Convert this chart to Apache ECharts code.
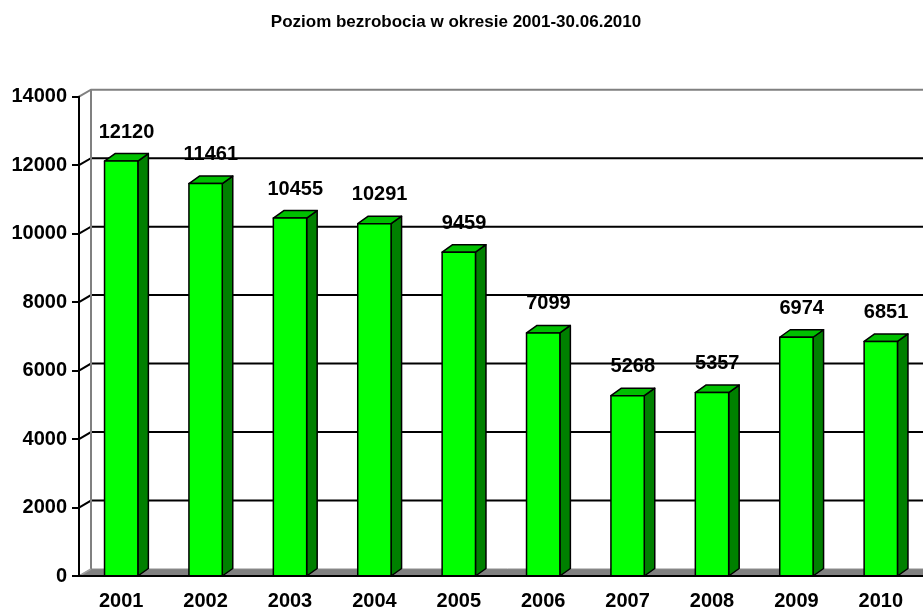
<!DOCTYPE html>
<html><head><meta charset="utf-8">
<script src="https://cdn.jsdelivr.net/npm/echarts@6/dist/echarts.min.js"></script>
<style>html,body{margin:0;padding:0;background:#fff}#c{width:923px;height:611px}</style>
</head><body><div id="c"></div>
<script>
const titleText = 'Poziom bezrobocia w okresie 2001-30.06.2010';
const categories = ['2001','2002','2003','2004','2005','2006','2007','2008','2009','2010'];
const values = [12120, 11461, 10455, 10291, 9459, 7099, 5268, 5357, 6974, 6851];
const yTicks = [0, 2000, 4000, 6000, 8000, 10000, 12000, 14000];

const FONT = '"Liberation Sans", Arial, sans-serif';
const DX = 12, DY = -7;       // back wall depth
const BDX = 10.5, BDY = -7.5; // bar depth

const chart = echarts.init(document.getElementById('c'), null, {renderer: 'canvas'});

chart.setOption({
  animation: false,
  backgroundColor: '#fff',
  graphic: [{
    type: 'text', x: 456, y: 22,
    style: {text: titleText, textAlign: 'center', textVerticalAlign: 'middle',
            font: 'bold 17px ' + FONT, fill: '#000'}
  }],
  grid: {left: 79, right: 0, top: 96.7, bottom: 32.3},
  xAxis: {
    type: 'category', data: categories, boundaryGap: true, z: 10,
    axisLine: {lineStyle: {color: '#000', width: 2}},
    axisTick: {length: 6, lineStyle: {color: '#000', width: 2}},
    axisLabel: {color: '#000', fontWeight: 'bold', fontSize: 20, fontFamily: FONT, margin: 15}
  },
  yAxis: {
    type: 'value', min: yTicks[0], max: yTicks[yTicks.length - 1], interval: 2000, z: 10,
    axisLine: {show: true, lineStyle: {color: '#000', width: 2}},
    axisTick: {show: true, length: 7, lineStyle: {color: '#000', width: 2}},
    axisLabel: {color: '#000', fontWeight: 'bold', fontSize: 20, fontFamily: FONT, margin: 12,
                formatter: function (v) { return String(v); }},
    splitLine: {show: false}
  },
  series: [
    {
      type: 'custom', z: 1, clip: false, silent: true,
      data: [[0, 0]],
      renderItem: function (params, api) {
        const cs = params.coordSys;
        const x0 = cs.x, x1 = cs.x + cs.width;
        const yb = api.coord([0, yTicks[0]])[1];
        const yt = api.coord([0, yTicks[yTicks.length - 1]])[1];
        const children = [];
        children.push({type: 'polygon', shape: {points: [[x0, yb], [x1 + 20, yb], [x1 + 20 + DX, yb + DY], [x0 + DX, yb + DY]]},
          style: {fill: '#808080', stroke: '#8c8c8c', lineWidth: 1}});
        for (let k = 1; k < yTicks.length - 1; k++) {
          const y = api.coord([0, yTicks[k]])[1];
          children.push({type: 'polyline', shape: {points: [[x0, y], [x0 + DX, y + DY], [x1 + 20, y + DY]]},
            style: {stroke: '#000', lineWidth: 2, fill: null}});
        }
        children.push({type: 'polyline', shape: {points: [[x0, yt], [x0 + DX, yt + DY], [x1 + 20, yt + DY]]},
          style: {stroke: '#808080', lineWidth: 2, fill: null}});
        children.push({type: 'line', shape: {x1: x0 + DX, y1: yt + DY, x2: x0 + DX, y2: yb + DY},
          style: {stroke: '#808080', lineWidth: 2}});
        children.push({type: 'line', shape: {x1: x0, y1: yb, x2: x0 + DX, y2: yb + DY},
          style: {stroke: '#a0a0a0', lineWidth: 1.5}});
        return {type: 'group', children: children};
      }
    },
    {
      type: 'custom', z: 5, clip: false,
      data: values.map((v, i) => [i, v]),
      encode: {x: 0, y: 1},
      renderItem: function (params, api) {
        const i = api.value(0), v = api.value(1);
        const c = api.coord([i, v]);
        const b = api.coord([i, 0]);
        const bw = api.size([1, 0])[0] * 0.395;
        const xl = c[0] - bw / 2, xr = c[0] + bw / 2, yt = c[1], yb = b[1];
        const st = {stroke: '#000', lineWidth: 1.5, lineJoin: 'round'};
        return {type: 'group', children: [
          {type: 'polygon', shape: {points: [[xr, yb], [xr + BDX, yb + BDY], [xr + BDX, yt + BDY], [xr, yt]]},
            style: Object.assign({fill: '#008000'}, st)},
          {type: 'polygon', shape: {points: [[xl, yt], [xl + BDX, yt + BDY], [xr + BDX, yt + BDY], [xr, yt]]},
            style: Object.assign({fill: '#00c000'}, st)},
          {type: 'rect', shape: {x: xl, y: yt, width: bw, height: yb - yt},
            style: Object.assign({fill: '#00ff00'}, st)},
          {type: 'text', x: c[0] + BDX / 2, y: yt - 29,
            style: {text: String(v), textAlign: 'center', textVerticalAlign: 'middle',
                    font: 'bold 20px ' + FONT, fill: '#000'}}
        ]};
      }
    }
  ]
});
</script></body></html>
